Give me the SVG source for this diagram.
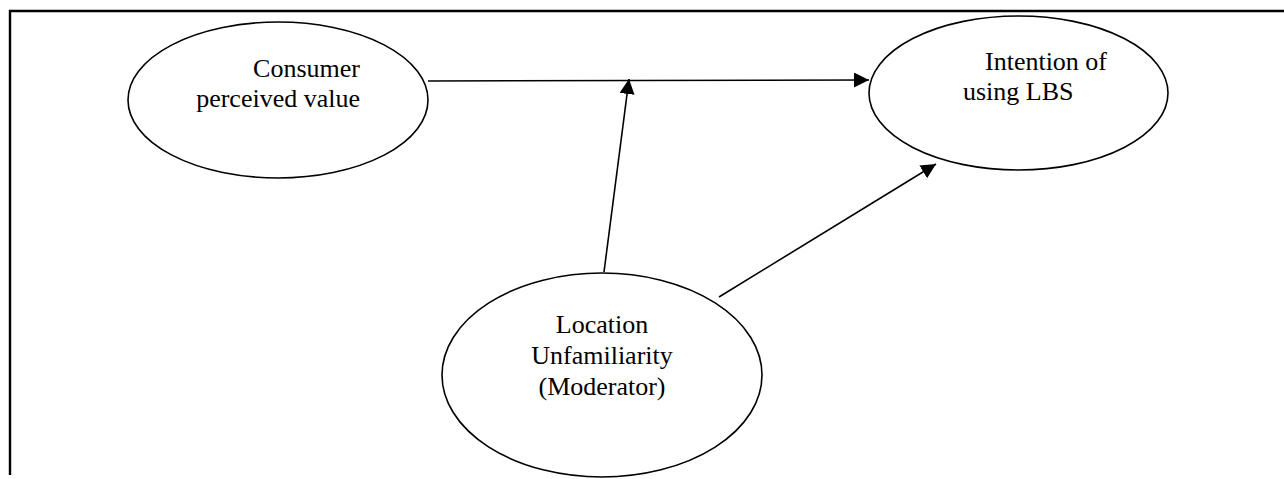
<svg xmlns="http://www.w3.org/2000/svg" width="1284" height="479" viewBox="0 0 1284 479">
<style>
.node ellipse{fill:#fff;stroke:#000;stroke-width:1.6}
.node text{font-family:"Liberation Serif","Times New Roman",serif;font-size:26px;fill:#000}
.conn line{stroke:#000;stroke-width:1.6}
.frame{stroke:#000;stroke-width:2.4;fill:none}
</style>
<defs>
<marker id="arr" markerUnits="userSpaceOnUse" markerWidth="16" markerHeight="16" refX="15" refY="7.5" orient="auto" viewBox="0 0 16 16">
<path d="M0,0 L15,7.5 L0,15 z" fill="#000"/>
</marker>
</defs>
<rect width="1284" height="479" fill="#fff"/>
<polyline class="frame" points="10,475 10,11 1284,11"/>
<g id="consumer" class="node">
<ellipse cx="278" cy="100" rx="150" ry="78"/>
<text x="360" y="77" text-anchor="end">Consumer</text>
<text x="360" y="107" text-anchor="end">perceived value</text>
</g>
<g id="intention" class="node">
<ellipse cx="1018.5" cy="93" rx="149.5" ry="77"/>
<text x="985" y="70">Intention of</text>
<text x="963" y="100">using LBS</text>
</g>
<g id="location" class="node">
<ellipse cx="602" cy="375" rx="160" ry="102"/>
<text x="602" y="333" text-anchor="middle">Location</text>
<text x="602" y="364" text-anchor="middle">Unfamiliarity</text>
<text x="602" y="395" text-anchor="middle">(Moderator)</text>
</g>
<g id="connectors" class="conn">
<line x1="428" y1="81" x2="869" y2="80" marker-end="url(#arr)"/>
<line x1="604" y1="272" x2="629" y2="79" marker-end="url(#arr)"/>
<line x1="719" y1="297" x2="936" y2="164" marker-end="url(#arr)"/>
</g>
</svg>
